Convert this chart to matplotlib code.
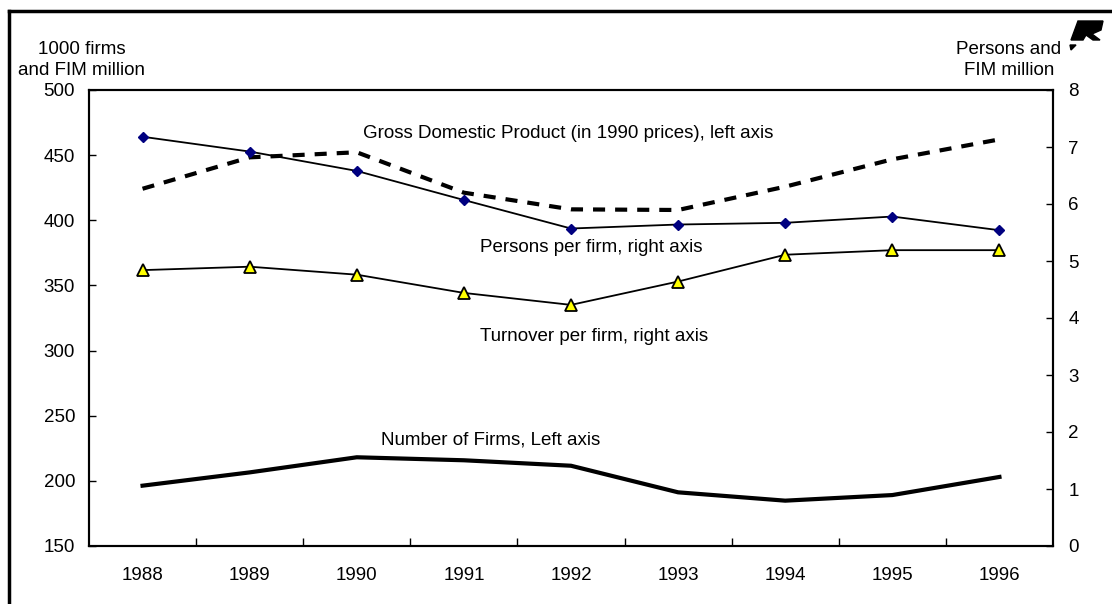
import matplotlib
matplotlib.use('Agg')
import matplotlib.pyplot as plt
import numpy as np
from matplotlib.lines import Line2D
from matplotlib.patches import Polygon

plt.rcParams['font.family'] = ['Liberation Sans', 'DejaVu Sans']

#=======================================================
years = ['1988', '1989', '1990', '1991', '1992', '1993', '1994', '1995', '1996']

# left axis: 1000 firms / FIM million
gdp = [424.2, 448.3, 452.2, 421.2, 408.4, 407.9, 425.8, 446.8, 462.1]
n_firms = [196.3, 206.5, 218.1, 215.8, 211.6, 191.2, 184.8, 189.1, 203.0]

# right axis: persons / FIM million
persons_per_firm = [7.18, 6.92, 6.58, 6.07, 5.57, 5.64, 5.67, 5.78, 5.54]
turnover_per_firm = [4.84, 4.90, 4.76, 4.44, 4.23, 4.64, 5.11, 5.19, 5.19]

#=======================================================
fig = plt.figure(figsize=(11.12, 6.04), dpi=100)
ax = fig.add_axes([89/1112, 1-546/604, (1053-89)/1112, (546-90)/604])
ax2 = ax.twinx()

x = np.arange(len(years))

ax.plot(x, gdp, color='black', lw=3, linestyle=(0, (2.9, 2.4)), zorder=3)
ax.plot(x, n_firms, color='black', lw=3, solid_joinstyle='miter', zorder=3)

ax2.plot(x, persons_per_firm, color='black', lw=1.3, marker='D', ms=5.5,
         mfc='#000080', mec='#000080', zorder=4)
ax2.plot(x, turnover_per_firm, color='black', lw=1.3, marker='^', ms=8.5,
         mfc='#ffff00', mec='black', mew=1.3, zorder=4)

#=======================================================
ax.set_xlim(-0.5, len(years)-0.5)
ax.set_ylim(150, 500)
ax2.set_ylim(0, 8)

ax.set_yticks(np.arange(150, 501, 50))
ax2.set_yticks(np.arange(0, 9, 1))

# ticks between categories, labels under the categories
ax.set_xticks(np.arange(0.5, len(years)-1, 1))
ax.set_xticklabels([])
ax.set_xticks(x, minor=True)
ax.set_xticklabels(years, minor=True)
ax.tick_params(axis='x', which='major', direction='in', length=6, width=1)
ax.tick_params(axis='x', which='minor', length=0, pad=15, labelsize=13.5)
ax.tick_params(axis='y', direction='in', length=5, width=1, pad=10, labelsize=13.5)
ax2.tick_params(axis='y', direction='in', length=5, width=1, pad=11, labelsize=13.5)

for a in (ax, ax2):
    for s in a.spines.values():
        s.set_linewidth(1.5)

#=======================================================
ax2.text(2.06, 7.23, 'Gross Domestic Product (in 1990 prices), left axis',
         fontsize=13.5, va='center', ha='left')
ax2.text(3.15, 5.23, 'Persons per firm, right axis', fontsize=13.5, va='center', ha='left')
ax2.text(3.15, 3.67, 'Turnover per firm, right axis', fontsize=13.5, va='center', ha='left')
ax2.text(2.23, 1.86, 'Number of Firms, Left axis', fontsize=13.5, va='center', ha='left')

fig.text(82/1112, 1-60/604, '1000 firms\nand FIM million', fontsize=13.5,
         ha='center', va='center', multialignment='center', linespacing=1.25)
fig.text(1009/1112, 1-60/604, 'Persons and\nFIM million', fontsize=13.5,
         ha='center', va='center', multialignment='center', linespacing=1.25)

# outer frame, left and top edges
fig.add_artist(Line2D([9/1112, 9/1112], [0, 1-11/604], color='black', lw=2.5,
                      transform=fig.transFigure))
fig.add_artist(Line2D([9/1112, 1], [1-11/604, 1-11/604], color='black', lw=2.5,
                      transform=fig.transFigure))

# small logo in the corner
def px(pts):
    return [(u/1112, 1-v/604) for u, v in pts]

fig.add_artist(Polygon(px([(1078, 21), (1103, 21), (1101, 30), (1092, 34),
                           (1100, 40), (1093, 40), (1086, 35), (1083, 40), (1071, 40)]),
                       closed=True, color='black', transform=fig.transFigure))
fig.add_artist(Polygon(px([(1070, 45), (1076, 45), (1071, 50)]), closed=True,
                       color='black', transform=fig.transFigure))

fig.savefig('out.png', dpi=100)
